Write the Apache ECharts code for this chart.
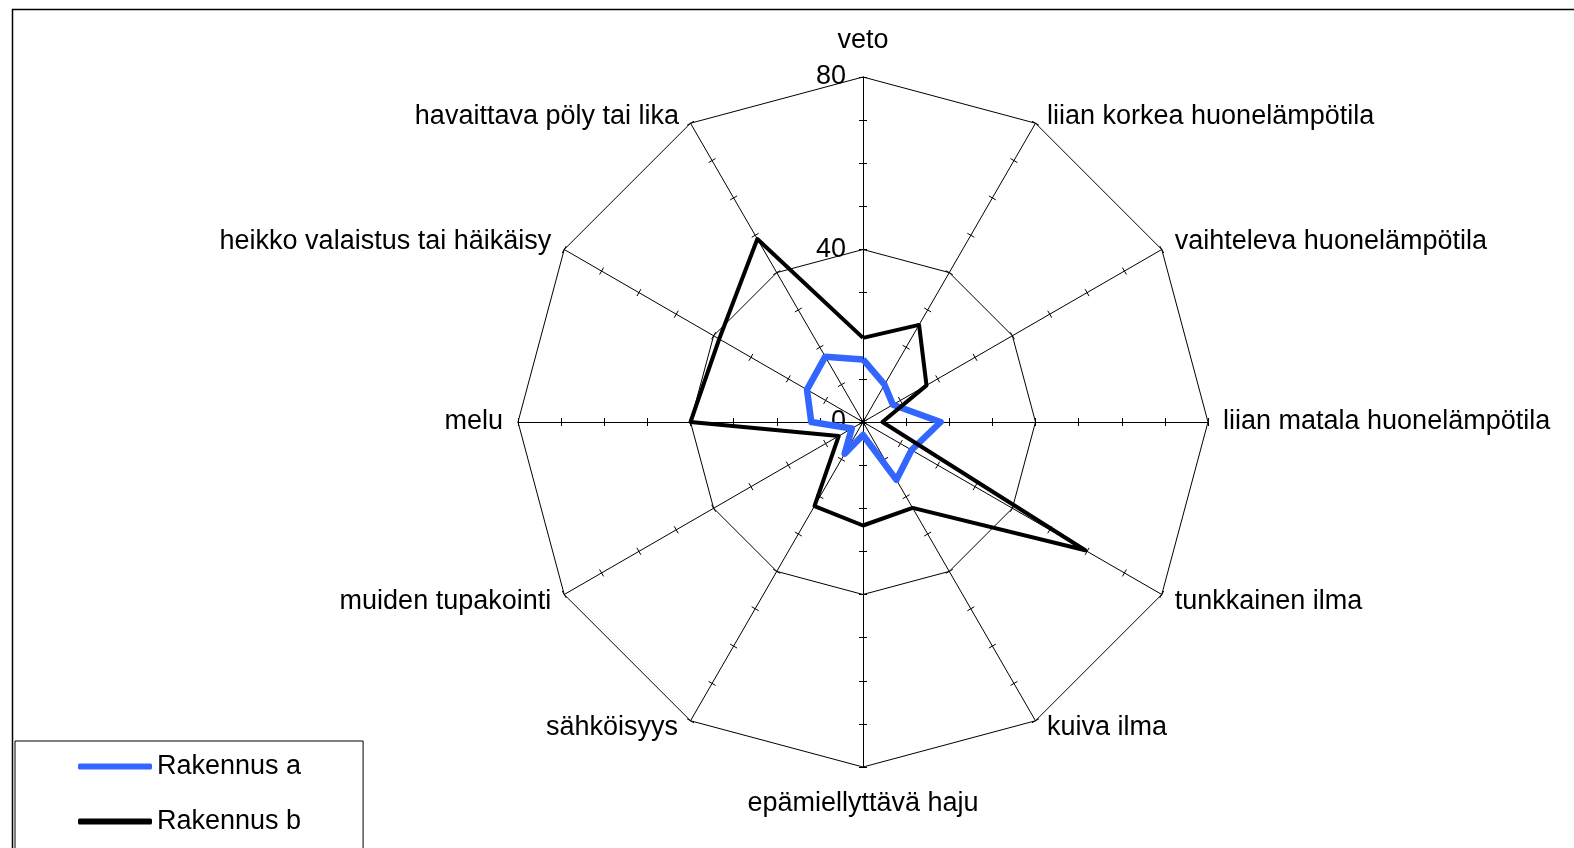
<!DOCTYPE html>
<html>
<head>
<meta charset="utf-8">
<script src="https://cdn.jsdelivr.net/npm/echarts@6/dist/echarts.min.js"></script>
<style>
  html, body { margin: 0; padding: 0; background: #fff; }
  #chart { width: 1574px; height: 848px; }
</style>
</head>
<body>
<div id="chart"></div>
<script>
// categories in clockwise order starting from the top
const categories = [
  'veto',
  'liian korkea huonelämpötila',
  'vaihteleva huonelämpötila',
  'liian matala huonelämpötila',
  'tunkkainen ilma',
  'kuiva ilma',
  'epämiellyttävä haju',
  'sähköisyys',
  'muiden tupakointi',
  'melu',
  'heikko valaistus tai häikäisy',
  'havaittava pöly tai lika'
];
const rakennusA = [14.5, 10, 8, 18, 13, 15.5, 3, 8.5, 3, 12, 15, 17.5];
const rakennusB = [19.5, 26, 17, 4.5, 59.5, 23, 24, 22.5, 6.5, 40, 38.5, 49];
const seriesNames = ['Rakennus a', 'Rakennus b'];
const axisMax = 80;
const tickLabels = [0, 40, 80];

const FONT = 'Liberation Sans, Arial, sans-serif';
const CENTER = [863, 422];
const RADIUS = 345;

// echarts lays indicators out counter-clockwise, so flip the order
const ccw = arr => arr.map((_, i) => arr[(arr.length - i) % arr.length]);

// small nudges of the axis names (keyed by clockwise position)
const nameStyle = {
  0: 'top', 1: 'ur', 5: 'lr', 6: 'bottom', 7: 'll', 11: 'ul'
};

// only the top axis (veto) carries the value labels
const indicators = ccw(categories).map((name, i) => {
  const ind = { name: name, min: 0, max: axisMax };
  if (i === 0) ind.axisLabel = { show: true };
  return ind;
});

const rich = {
  top: { padding: [0, 0, 8, 0] },
  bottom: { padding: [8, 0, 0, 0] },
  ur: { padding: [12, 0, 0, 4] },
  ul: { padding: [12, 4, 0, 0] },
  lr: { padding: [0, 0, 12, 4] },
  ll: { padding: [0, 5, 12, 0] }
};
Object.keys(rich).forEach(k => {
  rich[k].fontSize = 27;
  rich[k].fontFamily = FONT;
  rich[k].color = '#000';
});

const chart = echarts.init(document.getElementById('chart'));
chart.setOption({
  animation: false,
  graphic: [{
    type: 'rect',
    left: 10, top: 7,
    shape: { width: 1600, height: 900 },
    style: { fill: 'none', stroke: '#000', lineWidth: 1.5 },
    z: -1
  }],
  legend: {
    orient: 'vertical',
    left: 15, top: 741,
    height: 160,
    data: seriesNames,
    icon: 'roundRect',
    itemWidth: 74,
    itemHeight: 6,
    itemGap: 28,
    padding: [12, 62, 40, 63],
    borderColor: '#000',
    borderWidth: 1,
    textStyle: { fontSize: 27, fontFamily: FONT, color: '#000' }
  },
  radar: [{
    center: CENTER,
    radius: RADIUS,
    startAngle: 90,
    shape: 'polygon',
    splitNumber: 8,
    indicator: indicators,
    nameGap: 15,
    axisName: {
      color: '#000', fontSize: 27, fontFamily: FONT,
      formatter: name => {
        const idx = categories.indexOf(name);
        const key = nameStyle[idx];
        return key ? '{' + key + '|' + name + '}' : name;
      },
      rich: rich
    },
    axisLine: { lineStyle: { color: '#000', width: 1 } },
    axisTick: { show: true, length: 4, lineStyle: { color: '#000', width: 1 } },
    axisLabel: {
      show: false,
      color: '#000',
      fontSize: 27,
      fontFamily: FONT,
      margin: 17,
      formatter: v => (tickLabels.indexOf(v) >= 0 ? String(v) : '')
    },
    splitLine: {
      lineStyle: { color: ['#000', 'rgba(0,0,0,0)', 'rgba(0,0,0,0)', 'rgba(0,0,0,0)'], width: 1 }
    },
    splitArea: { show: false }
  }, {
    // second copy only to draw the other half of each cross tick
    center: CENTER,
    radius: RADIUS,
    startAngle: 90,
    shape: 'polygon',
    splitNumber: 8,
    indicator: ccw(categories).map(name => ({ name: name, min: 0, max: axisMax })),
    axisName: { show: false },
    axisLine: { show: false },
    axisTick: { show: true, length: -4, lineStyle: { color: '#000', width: 1 } },
    axisLabel: { show: false },
    splitLine: { show: false },
    splitArea: { show: false }
  }],
  series: [{
    type: 'radar',
    radarIndex: 0,
    symbol: 'none',
    data: [
      { name: seriesNames[0], value: ccw(rakennusA),
        lineStyle: { color: '#3366ff', width: 6.5 }, itemStyle: { color: '#3366ff' } },
      { name: seriesNames[1], value: ccw(rakennusB),
        lineStyle: { color: '#000', width: 4 }, itemStyle: { color: '#000' } }
    ]
  }]
});
</script>
</body>
</html>
